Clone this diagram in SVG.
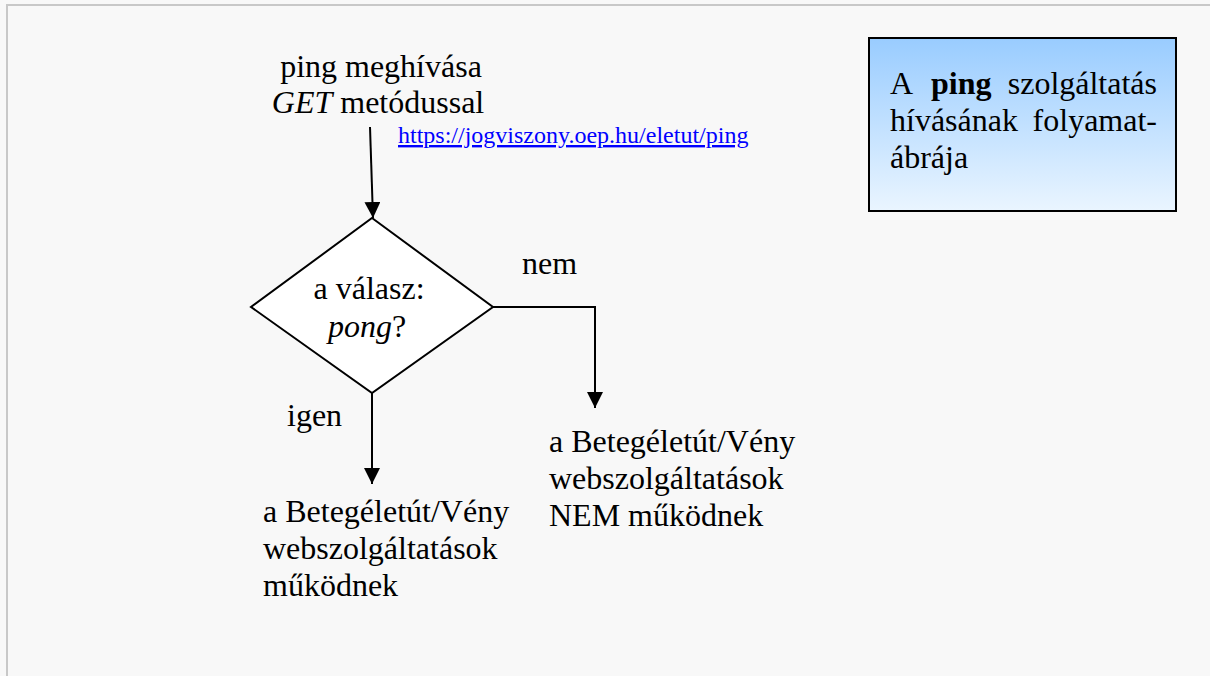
<svg xmlns="http://www.w3.org/2000/svg" width="1210" height="676" viewBox="0 0 1210 676">
<defs>
<linearGradient id="bg" x1="0" y1="0" x2="0" y2="1">
<stop offset="0" stop-color="#99ccff"/>
<stop offset="1" stop-color="#eaf5ff"/>
</linearGradient>
<marker id="ah" markerWidth="16" markerHeight="16" viewBox="0 0 16 16" refX="16" refY="8" orient="auto" markerUnits="userSpaceOnUse">
<path d="M0,0 L16,8 L0,16 Z" fill="#000"/>
</marker>
<style>
text{font-family:"Liberation Serif","Times New Roman",serif;font-size:32px;fill:#000}
.c{text-anchor:middle}
.e{text-anchor:end}
.url{font-size:24px;fill:#0000ff;text-decoration:underline}
.ln{fill:none;stroke:#000;stroke-width:2}
</style>
</defs>
<rect x="0" y="0" width="1210" height="676" fill="#f8f8f8"/>
<path d="M7,676 V5 H1210" fill="none" stroke="#c8c8c8" stroke-width="2"/>

<g id="start">
<text x="381" y="77" class="c">ping meghívása</text>
<text x="378" y="113" class="c"><tspan font-style="italic">GET</tspan> metódussal</text>
<text x="398" y="143" class="url">https://jogviszony.oep.hu/eletut/ping</text>
</g>

<g id="decision">
<polygon points="372,218 493,307 372,393 251,307" fill="#fff" stroke="#000" stroke-width="2"/>
<text x="369" y="299" class="c">a válasz:</text>
<text x="367" y="337" class="c"><tspan font-style="italic">pong</tspan>?</text>
</g>

<g id="yes-result">
<text x="263" y="522">a Betegéletút/Vény</text>
<text x="263" y="559">webszolgáltatások</text>
<text x="263" y="596">működnek</text>
</g>

<g id="no-result">
<text x="549" y="452">a Betegéletút/Vény</text>
<text x="549" y="489">webszolgáltatások</text>
<text x="549" y="526">NEM működnek</text>
</g>

<g id="title">
<rect x="869" y="38" width="307" height="173" fill="url(#bg)" stroke="#000" stroke-width="2"/>
<text x="890" y="94">A</text>
<text x="931" y="94" font-weight="bold">ping</text>
<text x="1157" y="94" class="e">szolgáltatás</text>
<text x="890" y="131">hívásának</text>
<text x="1157" y="131" class="e">folyamat-</text>
<text x="890" y="168">ábrája</text>
</g>

<g id="connectors">
<line x1="370" y1="127" x2="373" y2="218" class="ln" marker-end="url(#ah)"/>
<polyline points="493,307 595,307 595,408" class="ln" marker-end="url(#ah)"/>
<line x1="372" y1="393" x2="372" y2="484" class="ln" marker-end="url(#ah)"/>
<text x="522" y="274">nem</text>
<text x="287" y="426">igen</text>
</g>
</svg>
